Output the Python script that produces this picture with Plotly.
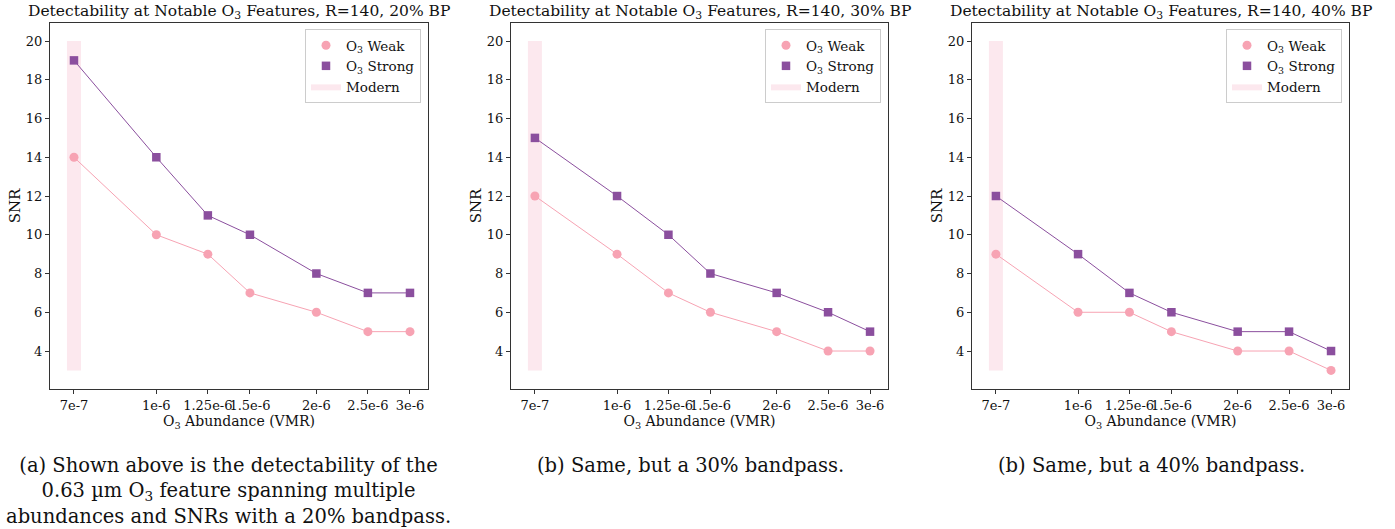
import plotly.graph_objects as go

# ---- data ----
abundance = [7e-7, 1e-6, 1.25e-6, 1.5e-6, 2e-6, 2.5e-6, 3e-6]
tick_labels = ["7e-7", "1e-6", "1.25e-6", "1.5e-6", "2e-6", "2.5e-6", "3e-6"]
bandpass = ["20%", "30%", "40%"]
weak_20 = [14, 10, 9, 7, 6, 5, 5]
strong_20 = [19, 14, 11, 10, 8, 7, 7]
weak_30 = [12, 9, 7, 6, 5, 4, 4]
strong_30 = [15, 12, 10, 8, 7, 6, 5]
weak_40 = [9, 6, 6, 5, 4, 4, 3]
strong_40 = [12, 9, 7, 6, 5, 5, 4]
modern_x = 7e-7
modern_snr = [3, 20]
captions = [
    "(a) Shown above is the detectability of the<br>0.63 µm O<sub>3</sub> feature spanning multiple<br>abundances and SNRs with a 20% bandpass.",
    "(b) Same, but a 30% bandpass.",
    "(b) Same, but a 40% bandpass.",
]

weak = [weak_20, weak_30, weak_40]
strong = [strong_20, strong_30, strong_40]

# ---- style ----
W, H = 1395, 529
FONT = "DejaVu Serif"
PINK = "#f7a3b3"
PURPLE = "#8b4f9e"
BAND = "#fce8ee"
AX = "#333333"
panels_px = [(50, 428), (511, 888), (972, 1349)]
caption_cx = [228, 690, 1151]
top_px, bot_px = 23, 389
band_half = 10 ** 0.0132

fig = go.Figure()
for i in range(3):
    sfx = "" if i == 0 else str(i + 1)
    xa, ya = "x" + sfx, "y" + sfx
    leg = "legend" + sfx
    # Modern band
    x0, x1 = modern_x / band_half, modern_x * band_half
    fig.add_trace(go.Scatter(
        x=[x0, x1, x1, x0, x0], y=[modern_snr[0], modern_snr[0], modern_snr[1], modern_snr[1], modern_snr[0]],
        mode="lines", fill="toself", fillcolor=BAND, line=dict(width=0, color=BAND),
        name="Modern", xaxis=xa, yaxis=ya, legend=leg, legendrank=3, hoverinfo="skip"))
    # lines
    fig.add_trace(go.Scatter(x=abundance, y=weak[i], mode="lines", line=dict(color=PINK, width=1),
                             showlegend=False, xaxis=xa, yaxis=ya))
    fig.add_trace(go.Scatter(x=abundance, y=strong[i], mode="lines", line=dict(color=PURPLE, width=1),
                             showlegend=False, xaxis=xa, yaxis=ya))
    # markers
    fig.add_trace(go.Scatter(x=abundance, y=weak[i], mode="markers",
                             marker=dict(symbol="circle", size=9, color=PINK),
                             name="O<sub>3</sub> Weak", xaxis=xa, yaxis=ya, legend=leg, legendrank=1))
    fig.add_trace(go.Scatter(x=abundance, y=strong[i], mode="markers",
                             marker=dict(symbol="square", size=8.5, color=PURPLE),
                             name="O<sub>3</sub> Strong", xaxis=xa, yaxis=ya, legend=leg, legendrank=2))

    l, r = panels_px[i]
    fig.layout["xaxis" + sfx] = dict(
        type="log", domain=[l / W, r / W], range=[-6.2, -5.489], anchor=ya, automargin=False,
        tickvals=abundance, ticktext=tick_labels, ticks="outside", ticklen=4, tickcolor=AX, tickangle=0,
        showline=True, linecolor=AX, linewidth=1, mirror=True, showgrid=False, zeroline=False,
        tickfont=dict(size=13, family=FONT, color="#111"),
        title=dict(text="O<sub>3</sub> Abundance (VMR)", font=dict(size=14, family=FONT, color="#111"), standoff=2))
    fig.layout["yaxis" + sfx] = dict(
        domain=[1 - bot_px / H, 1 - top_px / H], range=[2.04, 20.93], anchor=xa, automargin=False,
        tickvals=[4, 6, 8, 10, 12, 14, 16, 18, 20], ticks="outside", ticklen=4, tickcolor=AX,
        showline=True, linecolor=AX, linewidth=1, mirror=True, showgrid=False, zeroline=False,
        tickfont=dict(size=13, family=FONT, color="#111"),
        title=dict(text="SNR", font=dict(size=15, family=FONT, color="#111"), standoff=1))
    fig.layout[leg] = dict(
        x=(r - 7) / W, y=1 - 29 / H, xanchor="right", yanchor="top",
        bgcolor="white", bordercolor="#cccccc", borderwidth=1,
        font=dict(size=13.5, family=FONT, color="#111"), tracegroupgap=0, itemwidth=30)
    # title
    fig.add_annotation(text="Detectability at Notable O<sub>3</sub> Features, R=140, %s BP" % bandpass[i],
                       x=(l + r) / 2 / W, y=1 - 12 / H, xref="paper", yref="paper",
                       xanchor="center", yanchor="middle", showarrow=False,
                       font=dict(size=15.5, family=FONT, color="#111"))
    # caption
    fig.add_annotation(text=captions[i], x=caption_cx[i] / W, y=1 - 452 / H, xref="paper", yref="paper",
                       xanchor="center", yanchor="top", showarrow=False, align="center",
                       font=dict(size=19.5, family=FONT, color="#111"))

fig.update_layout(width=W, height=H, margin=dict(l=0, r=0, t=0, b=0),
                  plot_bgcolor="white", paper_bgcolor="white",
                  font=dict(family=FONT, color="#111"))
fig.write_html("out.html", config={"displayModeBar": False},
               post_script="document.body.style.margin='0';")
